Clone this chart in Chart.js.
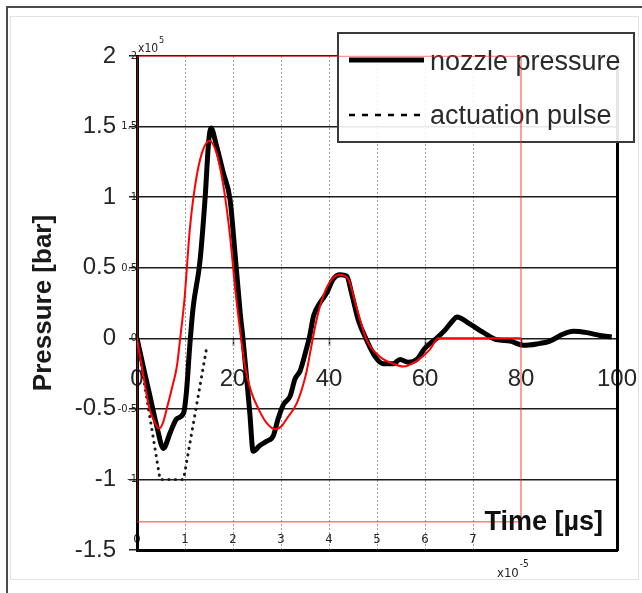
<!DOCTYPE html>
<html>
<head>
<meta charset="utf-8">
<script src="https://cdn.jsdelivr.net/npm/chart.js@4.4.1/dist/chart.umd.min.js"></script>
<style>
html,body{margin:0;padding:0;background:#fff;}
#wrap{position:relative;width:642px;height:593px;overflow:hidden;background:#fff;}
#frameDark{position:absolute;left:6px;top:6px;width:640px;height:600px;border-top:2px solid #4a4a4a;border-left:2px solid #4a4a4a;}
#frameLight{position:absolute;left:10px;top:16px;width:627px;height:562px;border:1px solid #e2e2e2;}
canvas{position:absolute;left:0;top:0;}
</style>
</head>
<body>
<div id="wrap">
  <div id="frameDark"></div>
  <div id="frameLight"></div>
  <canvas id="c" width="642" height="593"></canvas>
</div>
<script>
// ---------- data ----------
const timeTicks = [0, 20, 40, 60, 80, 100];
const pressureTicks = [-1.5, -1, -0.5, 0, 0.5, 1, 1.5, 2];
const modelTimeTicks = [0, 1, 2, 3, 4, 5, 6, 7, 8, 9, 10];
const modelTimeLabels = ['0', '1', '2', '3', '4', '5', '6', '7', '', '', ''];
const modelPressureTicks = [-1, -0.5, 0, 0.5, 1, 1.5, 2];
const modelPressureLabels = ['-1', '-0.5', '0', '0.5', '1', '1.5', '2'];
const legendLabels = ['nozzle pressure', 'actuation pulse'];

const measuredTime = [0, 1.3, 2.7, 4.1, 5.5, 6.9, 8.3, 9.7, 10.3, 11.0, 11.7, 13.1, 14.2, 14.9, 15.4, 16.6, 18.0, 19.4, 20.4, 21.5, 22.1, 23.5, 24.2, 25.6, 27.0, 28.4, 29.4, 30.5, 31.9, 32.9, 34.0, 35.1, 36.0, 36.8, 38.1, 39.5, 40.9, 42.3, 43.7, 44.7, 46.1, 47.8, 49.6, 51.3, 53.4, 54.8, 56.5, 58.3, 60.0, 62.4, 64.2, 65.9, 66.6, 69.4, 72.2, 74.9, 77.7, 80.5, 83.3, 86.0, 88.8, 90.9, 93.7, 96.5, 98.9];
const measuredPressure = [0, -0.2, -0.41, -0.62, -0.78, -0.67, -0.57, -0.53, -0.38, -0.05, 0.22, 0.54, 1.0, 1.38, 1.49, 1.36, 1.17, 0.98, 0.61, 0.18, -0.01, -0.53, -0.80, -0.76, -0.73, -0.69, -0.57, -0.47, -0.41, -0.29, -0.23, -0.1, 0.02, 0.16, 0.25, 0.32, 0.42, 0.45, 0.44, 0.32, 0.13, -0.01, -0.13, -0.18, -0.18, -0.15, -0.17, -0.15, -0.07, 0, 0.06, 0.13, 0.15, 0.10, 0.04, -0.01, -0.02, -0.05, -0.04, -0.02, 0.03, 0.05, 0.04, 0.02, 0.01];

const modelTime = [0, 1.0, 2.6, 3.5, 4.6, 5.4, 6.2, 7.3, 8.3, 9.0, 9.9, 11.0, 12.1, 13.5, 15.1, 16.6, 18.0, 19.4, 20.4, 21.5, 22.5, 23.8, 25.3, 27.0, 28.8, 30.2, 31.2, 33.3, 35.3, 36.3, 37.4, 38.8, 40.6, 42.3, 44.0, 45.8, 47.8, 50.6, 53.4, 55.5, 58.3, 61.0, 62.8, 80];
const modelPressure = [0, -0.2, -0.5, -0.58, -0.64, -0.6, -0.5, -0.35, -0.2, 0, 0.28, 0.77, 1.08, 1.31, 1.40, 1.31, 1.08, 0.72, 0.37, 0.05, -0.2, -0.38, -0.5, -0.6, -0.645, -0.62, -0.57, -0.46, -0.24, -0.06, 0.13, 0.30, 0.42, 0.45, 0.42, 0.21, -0.01, -0.13, -0.18, -0.20, -0.16, -0.08, 0, 0];

const pulseTime = [0, 4.8, 9.7, 14.6];
const pulsePressure = [0, -1, -1, -0.05];

const modelFrameTime = [0, 80, 80, 0, 0];
const modelFramePressure = [-1.3, -1.3, 2, 2, -1.3];

// ---------- helpers ----------
const FONT = '"Liberation Sans", Arial, Helvetica, sans-serif';
const NARROW = '"Liberation Sans Narrow", "DejaVu Sans Condensed", "Liberation Sans", sans-serif';
function pts(xs, ys) { return xs.map((x, i) => ({x: x, y: ys[i]})); }
function setTicks(values) { return s => { s.ticks = values.map(v => ({value: v})); }; }
function noOverhang(s) { s.paddingLeft = 0; s.paddingRight = 0; s.paddingTop = 0; s.paddingBottom = 0; }

function drawExponent(ctx, base, exp, x, y, size) {
  ctx.font = size + 'px ' + NARROW;
  ctx.fillText(base, x, y);
  const w = ctx.measureText(base).width;
  ctx.font = Math.round(size * 0.75) + 'px ' + NARROW;
  ctx.fillText(exp, x + w + 1, y - size * 0.75);
}

const overlay = {
  id: 'overlay',
  beforeDatasetsDraw(chart) {
    const ctx = chart.ctx;
    ctx.save();
    // legend box
    ctx.fillStyle = 'rgba(255,255,255,0.9)';
    ctx.fillRect(338, 33, 296, 109);
    ctx.strokeStyle = '#3a3a3a';
    ctx.lineWidth = 2;
    ctx.strokeRect(338, 33, 296, 109);
    // samples
    ctx.strokeStyle = '#000';
    ctx.lineWidth = 5;
    ctx.beginPath(); ctx.moveTo(349, 60); ctx.lineTo(424, 60); ctx.stroke();
    ctx.lineWidth = 2.5;
    ctx.setLineDash([6, 7]);
    ctx.beginPath(); ctx.moveTo(349, 115); ctx.lineTo(424, 115); ctx.stroke();
    ctx.setLineDash([]);
    ctx.fillStyle = '#2a2a2a';
    ctx.font = '27px ' + FONT;
    ctx.textAlign = 'left';
    ctx.textBaseline = 'alphabetic';
    ctx.fillText(legendLabels[0], 430, 70);
    ctx.fillText(legendLabels[1], 430, 124);
    ctx.restore();
  },
  afterDraw(chart) {
    const ctx = chart.ctx;
    const a = chart.chartArea;
    ctx.save();
    ctx.fillStyle = '#111';
    ctx.font = 'bold 27px ' + FONT;
    ctx.textAlign = 'right';
    ctx.textBaseline = 'alphabetic';
    ctx.fillText('Time [µs]', a.right - 14, 530);
    ctx.textAlign = 'left';
    ctx.fillStyle = '#222';
    drawExponent(ctx, 'x10', '5', a.left + 1, 52, 12);
    drawExponent(ctx, 'x10', '-5', 497, 577, 13);
    ctx.restore();
  }
};

new Chart(document.getElementById('c'), {
  type: 'line',
  data: {
    datasets: [
      {label: 'model frame', data: pts(modelFrameTime, modelFramePressure), borderColor: 'rgba(255,40,40,0.6)', borderWidth: 1.5, pointRadius: 0, tension: 0, order: 0},
      {label: 'model', data: pts(modelTime, modelPressure), borderColor: '#ff0000', borderWidth: 2, pointRadius: 0, cubicInterpolationMode: 'monotone', order: 1},
      {label: legendLabels[1], data: pts(pulseTime, pulsePressure), borderColor: '#1a1a1a', borderWidth: 3, borderDash: [0.1, 6.5], borderCapStyle: 'round', pointRadius: 0, tension: 0, order: 2},
      {label: legendLabels[0], data: pts(measuredTime, measuredPressure), borderColor: '#000', borderWidth: 5, borderJoinStyle: 'round', pointRadius: 0, cubicInterpolationMode: 'monotone', order: 3}
    ]
  },
  options: {
    responsive: false,
    animation: false,
    events: [],
    layout: {padding: {left: 0, right: 25, top: 56, bottom: 43}},
    plugins: {legend: {display: false}, tooltip: {enabled: false}, title: {display: false}},
    scales: {
      x: {
        type: 'linear', axis: 'x', position: {y: 0}, min: 0, max: 100,
        afterBuildTicks: setTicks(timeTicks),
        afterFit: noOverhang,
        ticks: {font: {family: FONT, size: 24}, color: '#262626', padding: 19, autoSkip: false, maxRotation: 0, callback: v => String(v)},
        grid: {display: true, drawOnChartArea: false, drawTicks: true, tickLength: 8, tickColor: '#222', tickWidth: 1.5},
        border: {display: false}
      },
      x2: {
        type: 'linear', axis: 'x', position: {y: -1.5}, min: 0, max: 10,
        afterBuildTicks: setTicks(modelTimeTicks),
        afterFit: noOverhang,
        ticks: {font: {family: NARROW, size: 13}, color: '#222', padding: -18, autoSkip: false, maxRotation: 0, callback: (v, i) => modelTimeLabels[i]},
        grid: {drawTicks: false, lineWidth: 1, color: c => (c.tick && c.tick.value >= 1 && c.tick.value <= 7) ? '#9c9c9c' : 'rgba(0,0,0,0)'},
        border: {display: true, color: '#000', width: 3, dash: c => (c.type === 'tick') ? [2, 2] : []}
      },
      y: {
        type: 'linear', position: 'left', min: -1.5, max: 2,
        afterBuildTicks: setTicks(pressureTicks),
        afterFit: s => { s.width = 137; s.paddingTop = 0; s.paddingBottom = 0; },
        ticks: {font: {family: FONT, size: 24}, color: '#262626', padding: 13, autoSkip: false, callback: v => String(v)},
        grid: {
          lineWidth: 1.5, drawTicks: true, tickLength: 8, tickColor: '#222', tickWidth: 1.5,
          color: c => c.tick.value === 2 ? '#6e0d0d' : (c.tick.value === -1.5 ? 'rgba(0,0,0,0)' : '#1c1c1c')
        },
        border: {display: true, color: '#000', width: 3},
        title: {display: true, text: 'Pressure [bar]', font: {family: FONT, size: 26, weight: 'bold'}, color: '#1a1a1a', padding: {top: 28, bottom: 0}}
      },
      y2: {
        type: 'linear', axis: 'y', position: {x: 0}, min: -1.5, max: 2,
        afterBuildTicks: setTicks(modelPressureTicks),
        afterFit: noOverhang,
        ticks: {font: {family: NARROW, size: 11}, color: '#222', padding: 2, autoSkip: false, callback: (v, i) => modelPressureLabels[i]},
        grid: {display: false},
        border: {display: false}
      },
      y3: {
        type: 'linear', axis: 'y', position: 'right', min: -1.5, max: 2,
        afterFit: s => { s.width = 0; s.paddingTop = 0; s.paddingBottom = 0; },
        ticks: {display: false},
        grid: {display: false, drawTicks: false},
        border: {display: true, color: '#000', width: 3}
      }
    }
  },
  plugins: [overlay]
});
</script>
</body>
</html>
